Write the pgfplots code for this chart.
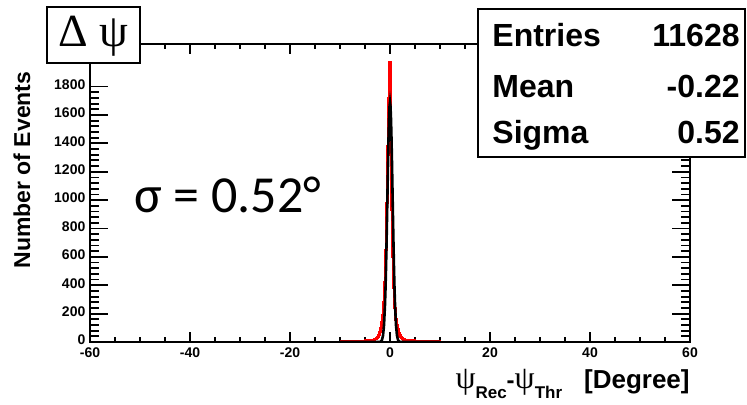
\documentclass[border=0pt]{standalone}
\usepackage{pgfplots}
\pgfplotsset{compat=1.18}
\usepackage{fontspec}
\setmainfont{Liberation Sans}
\newfontfamily\greekserif{Liberation Serif}
\newfontfamily\calibri{Carlito}

% histogram of psi_Rec - psi_Thr (bin left edge, entries)
\pgfplotstableread{
x y
-10 5
-9 6
-8 4
-7 8
-6 7
-5 10
-4 14
-3.1 20
-2.9 22
-2.7 28
-2.5 35
-2.3 50
-2.1 70
-1.9 100
-1.7 140
-1.5 190
-1.3 280
-1.1 420
-0.9 650
-0.7 980
-0.5 1380
-0.3 1720
-0.1 1970
0.1 1320
0.3 930
0.5 600
0.7 380
0.9 240
1.1 160
1.3 120
1.5 90
1.7 65
1.9 45
2.1 35
2.3 28
2.5 22
2.7 18
2.9 15
3.1 12
4 10
5 8
6 7
7 6
8 5
9 4
10 0
}\histdata

% gaussian fit curve
\pgfplotstableread{
x y
-10 0
-3 0
-2.5 0
-2.0 1
-1.8 4
-1.6 15
-1.4 45
-1.2 118
-1.0 266
-0.9 378
-0.8 517
-0.7 683
-0.6 868
-0.5 1064
-0.4 1257
-0.3 1431
-0.2 1570
-0.1 1659
0.0 1690
0.1 1659
0.2 1570
0.3 1431
0.4 1257
0.5 1064
0.6 868
0.7 683
0.8 517
0.9 378
1.0 266
1.2 118
1.4 45
1.6 15
1.8 4
2.0 1
2.5 0
3 0
10 0
}\fitdata

\begin{document}
\begin{tikzpicture}
\useasboundingbox (-45pt,-31pt) rectangle (328.5pt,171pt);
% data and x ticks
\begin{axis}[
  scale only axis, width=300pt, height=149pt,
  xmin=-60, xmax=60, ymin=0, ymax=2100,
  axis line style={line width=1pt},
  xtick={-60,-40,...,60}, minor x tick num=3,
  ytick=\empty,
  major tick length=5pt, minor tick length=2.5pt,
  tick style={line width=0.9pt, black},
  /pgf/number format/assume math mode=true,
  xticklabel style={font=\bfseries\fontsize{7}{8}\selectfont, yshift=0.8pt},
]
\addplot[red, line width=1.2pt, const plot] table {\histdata};
\addplot[black, line width=1.3pt] table {\fitdata};
\end{axis}
% y ticks
\begin{axis}[
  scale only axis, width=300pt, height=149pt,
  xmin=-60, xmax=60, ymin=0, ymax=2100,
  axis line style={line width=1pt},
  xtick=\empty,
  ytick={0,200,...,1800}, minor y tick num=4,
  major tick length=9pt, minor tick length=4.5pt,
  tick style={line width=0.9pt, black},
  /pgf/number format/assume math mode=true,
  /pgf/number format/1000 sep={},
  yticklabel style={font=\bfseries\fontsize{7}{8}\selectfont, xshift=1.2pt, yshift=1pt},
]
\end{axis}

% y axis title
\node[rotate=90, font=\bfseries\fontsize{11.5}{12}\selectfont] at (-34pt,86pt) {Number of Events};
% x axis title
\node[anchor=base east, inner sep=0pt] at (300pt,-23pt) {%
  {\greekserif\fontsize{16}{16}\selectfont ψ}\raisebox{-5pt}{\bfseries\fontsize{8.5}{9}\selectfont Rec}%
  \textbf{\fontsize{12}{12}\selectfont -}{\greekserif\fontsize{16}{16}\selectfont ψ}\raisebox{-5pt}{\bfseries\fontsize{8.5}{9}\selectfont Thr}%
  \hspace{11pt}{\bfseries\fontsize{13}{14}\selectfont [Degree]}};

% sigma annotation
\node[anchor=base west, inner sep=0pt, font=\calibri\fontsize{26}{28}\selectfont] at (22pt,65pt) {σ = 0.52°};

% histogram title box
\draw[line width=0.8pt, fill=white] (-21.5pt,139.5pt) rectangle (25pt,167.5pt);
\node[font=\greekserif\fontsize{23}{26}\selectfont] at (1.75pt,153pt) {Δ ψ};

% statistics box
\draw[line width=0.8pt, fill=white] (194pt,92.5pt) rectangle (327.5pt,166.5pt);
\begin{scope}[every node/.style={inner sep=0pt, font=\bfseries\fontsize{16}{18}\selectfont}]
\node[anchor=base west] at (201pt,148pt) {Entries};
\node[anchor=base east] at (325pt,148pt) {11628};
\node[anchor=base west] at (201pt,122.5pt) {Mean};
\node[anchor=base east] at (325pt,122.5pt) {-0.22};
\node[anchor=base west] at (201pt,99.5pt) {Sigma};
\node[anchor=base east] at (325pt,99.5pt) {0.52};
\end{scope}
\end{tikzpicture}
\end{document}
